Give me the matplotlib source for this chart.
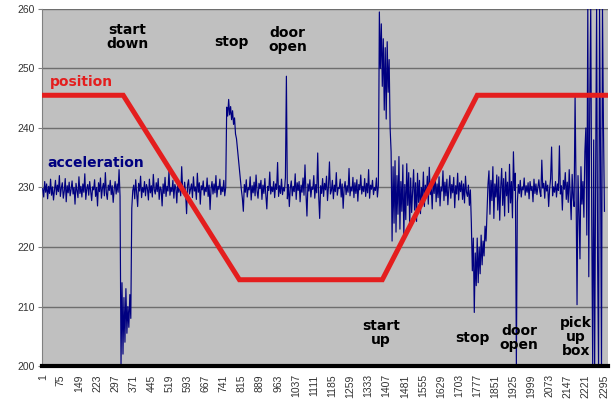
import numpy as np
import matplotlib.pyplot as plt

# acceleration samples (one every 4 readings)
acc_level_1 = [
    229.8, 228.4, 231.0, 229.2, 230.6, 228.1, 230.2, 229.0, 231.4, 228.7,
    230.1, 227.9, 229.6, 231.2, 228.8, 230.4, 229.3, 232.0, 228.5, 229.9,
    230.8, 228.2, 229.4, 231.5, 227.6, 230.3, 229.1, 230.9, 228.6, 229.7,
    231.1, 228.9, 230.0, 227.2, 230.7, 229.5, 228.3, 231.8, 229.0, 230.2,
    228.4, 230.6, 229.2, 232.3, 228.0, 229.8, 230.5, 228.7, 231.0, 229.4,
    227.8, 230.1, 229.6, 231.3, 228.5, 230.0, 226.9, 230.8, 229.3, 231.6,
    228.2, 229.9, 230.7, 228.6, 232.5, 229.1, 228.0, 230.4, 229.5, 231.2,
    228.8, 230.3, 227.5, 229.7, 231.0, 228.9, 230.6, 229.2, 233.0]
acc_start_down = [228.5, 200.2, 214.0, 202.0, 211.5, 204.0, 213.0, 205.5,
                  210.0, 206.5, 212.0, 208.0, 226.5, 229.5]
acc_level_2 = [
    230.4, 228.1, 231.3, 229.0, 226.8, 230.7, 229.4, 231.9, 228.3, 230.0,
    229.2, 231.0, 228.6, 230.5, 229.8, 227.9, 231.4, 229.1, 230.3, 228.4,
    232.2, 229.6, 228.9, 230.8, 229.3, 231.5, 228.0, 230.1, 229.7, 226.9,
    230.6, 229.0, 231.7, 228.5, 230.2, 229.4, 232.8, 228.7, 230.0, 229.3,
    231.2, 228.2, 230.5, 229.9, 227.4, 231.0, 229.2, 230.7, 228.6, 233.5,
    229.5, 228.8, 230.9, 229.0, 225.6, 230.4, 231.3, 228.9, 229.7, 230.6,
    228.3, 231.8, 229.4, 230.1, 228.0, 232.4, 229.2, 230.8, 227.2, 230.3,
    229.6, 231.1, 228.7, 230.0, 229.3, 231.6, 228.5, 230.4, 226.3, 229.8,
    231.0, 228.9, 230.6, 229.1, 232.0, 228.4, 230.2, 229.7, 231.4, 228.8,
    230.1, 229.3, 231.2, 228.6, 230.0]
acc_stop_1 = [243.5, 242.0, 244.8, 242.2, 243.6, 241.4, 242.9, 240.6, 241.7,
              239.0, 238.2, 236.5, 234.8, 233.0, 231.4, 229.6, 228.2]
acc_level_3 = [
    226.0, 230.5, 229.2, 231.3, 228.4, 230.0, 229.6, 231.8, 227.9, 230.3,
    229.1, 230.9, 228.6, 232.1, 229.4, 228.2, 230.7, 229.8, 231.2, 228.0,
    230.4, 229.0, 231.5, 228.7, 226.4, 230.2, 229.5, 232.6, 228.9, 230.1,
    229.3, 231.0, 228.3, 230.6, 229.7, 234.2, 228.5, 230.3, 229.0, 231.4,
    228.8, 230.0, 229.4, 231.7, 248.7, 228.1, 230.5, 226.8, 229.9, 231.1,
    228.6, 230.2, 229.3, 232.3, 228.0, 230.8, 229.5, 231.0, 227.6, 230.4,
    229.2, 231.6, 228.7, 233.8, 229.0, 225.2, 230.6, 229.4, 231.3, 228.4,
    230.1, 229.7, 232.0, 228.2, 230.5, 229.1, 235.8, 228.6, 224.8, 230.3,
    229.0, 231.5, 228.5, 230.7, 229.6, 231.9, 227.8, 230.2, 234.3, 228.9,
    229.5, 231.2, 228.1, 230.4, 229.3, 232.5, 228.7, 230.0, 229.8, 231.4,
    228.4, 230.6, 226.5, 229.9, 231.0, 228.8, 230.3, 229.2, 233.2, 228.6,
    230.1, 229.4, 231.7, 228.3, 230.8, 229.0, 231.3, 227.7, 230.5, 229.6,
    232.1, 228.9, 230.2, 229.3, 231.5, 228.5, 230.7, 229.1, 233.0, 228.2,
    230.4, 229.7, 231.2, 228.8, 230.0, 229.5, 231.6, 228.4, 230.3]
acc_start_up = [259.5, 250.0, 257.5, 247.0, 255.0, 243.0, 253.5, 241.5,
                254.5, 246.0, 251.5, 240.0, 236.0, 221.0, 233.5]
acc_level_4 = [
    224.0, 234.5, 222.5, 232.0, 225.5, 235.2, 223.0, 231.0, 226.0, 233.8,
    221.8, 230.5, 224.6, 234.0, 227.0, 232.5, 223.5, 231.6, 225.8, 229.4,
    233.0, 226.2, 230.8, 224.3, 232.4, 227.5, 231.2, 225.6, 230.0, 228.1,
    232.6, 226.8, 230.4, 228.5, 231.9, 227.2, 233.4, 228.8, 230.2, 226.4,
    231.5, 229.0, 232.2, 227.6, 230.6, 228.3, 231.8, 226.9, 230.1, 229.4,
    232.8, 227.8, 230.9, 228.6, 231.4, 227.1, 229.8, 232.0, 228.2, 230.5,
    229.1, 231.7, 226.6, 230.3, 228.9, 232.4, 227.9, 230.8, 229.3, 231.1,
    228.0, 230.6, 227.4, 231.9, 229.2, 228.5, 230.4, 227.0, 229.6]
acc_stop_2 = [224.0, 216.0, 221.5, 209.0, 219.0, 213.5, 221.5, 214.0, 220.0,
              215.5, 222.0, 217.0, 221.0, 218.5, 223.5, 221.0, 225.5, 230.5]
acc_door = [
    232.8, 225.5, 231.2, 227.8, 233.5, 224.8, 230.6, 228.4, 232.1, 226.2,
    231.8, 224.5, 230.0, 233.2, 227.0, 231.5, 225.2, 232.6, 228.6, 230.9,
    225.8, 233.9, 227.4, 231.0, 224.9, 236.0, 229.5, 232.4, 200.0, 227.5]
acc_level_5 = [
    230.5, 229.0, 231.2, 228.4, 230.1, 229.6, 231.6, 228.7, 230.3, 229.2,
    230.8, 228.1, 231.0, 229.5, 230.2, 227.6, 231.4, 229.0, 230.6, 228.8,
    230.0, 231.3, 229.3, 228.5, 234.6, 229.9, 230.7, 228.2, 231.1, 229.4,
    230.4, 226.8, 229.8, 231.5, 236.8, 228.6, 230.1, 229.2, 231.0, 228.4,
    230.6, 229.5, 237.0, 228.9, 230.3, 226.2, 231.2, 229.7, 232.5, 228.0,
    230.9, 227.5, 233.0, 229.0, 224.6, 232.2, 228.3, 226.8, 245.5, 229.8,
    210.3, 232.0, 226.0, 218.0, 233.5, 227.2, 231.0, 225.0, 236.0]
acc_pick_up = [240.0, 222.0, 260.5, 215.0, 244.0, 260.5, 225.0, 200.0, 238.0,
               199.5, 232.0, 260.5, 218.0, 199.5, 260.5, 235.0, 200.0, 260.5,
               240.0, 226.0]

acceleration = np.array(acc_level_1 + acc_start_down + acc_level_2 + acc_stop_1
                        + acc_level_3 + acc_start_up + acc_level_4 + acc_stop_2
                        + acc_door + acc_level_5 + acc_pick_up)
samples = 1 + 4 * np.arange(len(acceleration))

# position: corners of the red line
pos_x = [1, 330, 805, 1389, 1777, 2311]
pos_y = [245.5, 245.5, 214.5, 214.5, 245.5, 245.5]

xticks = list(range(1, 2296, 74))

labels = [("start\ndown", 347, 255.3), ("stop", 774, 254.5), ("door\nopen", 1002, 254.8),
          ("start\nup", 1384, 205.5), ("stop", 1758, 204.7), ("door\nopen", 1949, 204.7),
          ("pick\nup\nbox", 2181, 204.9)]

fig = plt.figure(figsize=(6.14, 4.03), dpi=100)
ax = fig.add_axes([0.0684, 0.0918, 0.9216, 0.8859])
ax.set_facecolor("#c0c0c0")

ax.plot(samples, acceleration, color="#000080", linewidth=0.85, zorder=3)
ax.plot(pos_x, pos_y, color="#e41e1e", linewidth=3.6, zorder=4,
        solid_joinstyle="miter")

ax.set_xlim(-2, 2311)
ax.set_ylim(200, 260)
ax.set_yticks(range(200, 261, 10))
ax.set_xticks(xticks)
ax.set_xticklabels([str(t) for t in xticks], rotation=90, fontsize=7.5,
                   family="Liberation Sans", color="#333333")
for lab in ax.get_yticklabels():
    lab.set_family("Liberation Sans")
    lab.set_fontsize(7.5)
    lab.set_color("#333333")

ax.grid(axis="y", color="#6e6e6e", linewidth=1, zorder=1)
ax.set_axisbelow(True)
ax.tick_params(axis="x", length=0, pad=6)
ax.tick_params(axis="y", length=3, color="#808080", pad=2)

ax.spines["top"].set_visible(False)
ax.spines["right"].set_visible(False)
ax.spines["left"].set_color("#808080")
ax.spines["bottom"].set_color("black")
ax.spines["bottom"].set_linewidth(3)
ax.spines["bottom"].set_zorder(5)

for txt, x, y in labels:
    ax.text(x, y, txt, ha="center", va="center", fontsize=10,
            fontweight="bold", color="black", linespacing=1.0, zorder=6)

ax.text(29, 247.7, "position", color="#e41e1e", fontsize=10, fontweight="bold",
        va="center", ha="left", zorder=6)
ax.text(21, 234.1, "acceleration", color="#000080", fontsize=10, fontweight="bold",
        va="center", ha="left", zorder=6)

fig.savefig("out.png", dpi=100)
